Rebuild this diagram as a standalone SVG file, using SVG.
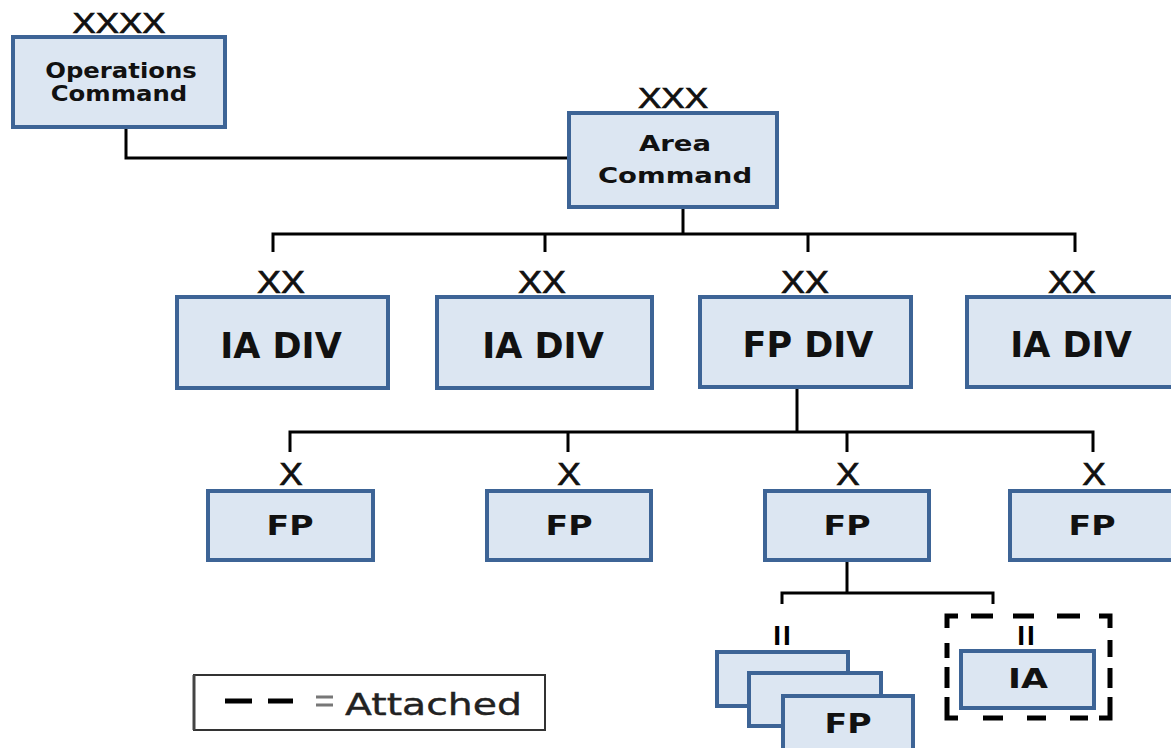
<svg xmlns="http://www.w3.org/2000/svg" width="1171" height="748" viewBox="0 0 1171 748">
  <style>
    .box { fill: #dce6f2; stroke: #3d6496; stroke-width: 4; }
    .wire { fill: none; stroke: #000; stroke-width: 3; }
    .dash { fill: none; stroke: #000; stroke-width: 5; }
    .echelon { font-family: "Liberation Sans", Arial, sans-serif; fill: #111; stroke: #111; stroke-width: 0.7; text-anchor: middle; }
    .bars { font-family: "Liberation Sans", Arial, sans-serif; font-weight: bold; font-size: 28px; letter-spacing: 2px; fill: #000; text-anchor: middle; }
    .lbl { font-family: "DejaVu Sans", "Liberation Sans", sans-serif; font-weight: bold; fill: #111; text-anchor: middle; }
  </style>
  <rect width="1171" height="748" fill="#fff"/>

  <!-- connectors -->
  <g id="connectors">
    <path class="wire" d="M126,128 V158 H569"/>
    <path class="wire" d="M683,208 V234"/>
    <path class="wire" d="M273,252 V234 H1075 V252"/>
    <path class="wire" d="M545,234 V252 M808,234 V252"/>
    <path class="wire" d="M797,389 V432"/>
    <path class="wire" d="M290,452 V432 H1093 V452"/>
    <path class="wire" d="M568,432 V452 M847,432 V452"/>
    <path class="wire" d="M847,561 V593"/>
    <path class="wire" d="M782,604 V593 H993 V604"/>
  </g>

  <g id="operations-command">
    <text class="echelon" font-size="29" transform="translate(119,33) scale(1.2,1)">XXXX</text>
    <rect class="box" x="13" y="37" width="212" height="90"/>
    <text class="lbl" font-size="21" transform="translate(121,78) scale(1.16,1)">Operations</text>
    <text class="lbl" font-size="21" transform="translate(119,101) scale(1.16,1)">Command</text>
  </g>

  <g id="area-command">
    <text class="echelon" font-size="30" transform="translate(673,108) scale(1.17,1)">XXX</text>
    <rect class="box" x="569" y="113" width="208" height="94"/>
    <text class="lbl" font-size="22" transform="translate(675,151) scale(1.25,1)">Area</text>
    <text class="lbl" font-size="22" transform="translate(675,183) scale(1.25,1)">Command</text>
  </g>

  <g id="ia-div-1">
    <text class="echelon" font-size="32" transform="translate(281,293) scale(1.12,1)">XX</text>
    <rect class="box" x="177" y="297" width="211" height="91"/>
    <text class="lbl" font-size="35" x="281" y="358">IA DIV</text>
  </g>
  <g id="ia-div-2">
    <text class="echelon" font-size="32" transform="translate(542,293) scale(1.12,1)">XX</text>
    <rect class="box" x="437" y="297" width="215" height="91"/>
    <text class="lbl" font-size="35" x="543" y="358">IA DIV</text>
  </g>
  <g id="fp-div">
    <text class="echelon" font-size="32" transform="translate(805,293) scale(1.12,1)">XX</text>
    <rect class="box" x="700" y="297" width="211" height="90"/>
    <text class="lbl" font-size="35" x="808" y="357">FP DIV</text>
  </g>
  <g id="ia-div-4">
    <text class="echelon" font-size="32" transform="translate(1072,293) scale(1.12,1)">XX</text>
    <rect class="box" x="967" y="297" width="210" height="90"/>
    <text class="lbl" font-size="35" x="1071" y="357">IA DIV</text>
  </g>

  <g id="fp-1">
    <text class="echelon" font-size="32" transform="translate(291,485) scale(1.1,1)">X</text>
    <rect class="box" x="208" y="491" width="165" height="69"/>
    <text class="lbl" font-size="27" transform="translate(290,535) scale(1.23,1)">FP</text>
  </g>
  <g id="fp-2">
    <text class="echelon" font-size="32" transform="translate(569,485) scale(1.1,1)">X</text>
    <rect class="box" x="487" y="491" width="164" height="69"/>
    <text class="lbl" font-size="27" transform="translate(569,535) scale(1.23,1)">FP</text>
  </g>
  <g id="fp-3">
    <text class="echelon" font-size="32" transform="translate(848,485) scale(1.1,1)">X</text>
    <rect class="box" x="765" y="491" width="164" height="69"/>
    <text class="lbl" font-size="27" transform="translate(847,535) scale(1.23,1)">FP</text>
  </g>
  <g id="fp-4">
    <text class="echelon" font-size="32" transform="translate(1094,485) scale(1.1,1)">X</text>
    <rect class="box" x="1010" y="491" width="166" height="69"/>
    <text class="lbl" font-size="27" transform="translate(1092,535) scale(1.23,1)">FP</text>
  </g>

  <!-- stacked battalions -->
  <g id="fp-battalions">
    <text class="bars" x="783" y="645">II</text>
    <rect class="box" x="717" y="652" width="131" height="54"/>
    <rect class="box" x="749" y="673" width="132" height="53"/>
    <rect class="box" x="783" y="696" width="130" height="60"/>
    <text class="lbl" font-size="27" transform="translate(848,733) scale(1.23,1)">FP</text>
  </g>

  <!-- attached battalion, dashed frame -->
  <g id="ia-attached">
    <path class="dash" d="M947,628 V616 H958 M1099,616 H1110 V628 M947,704 V718 H958 M1099,718 H1110 V704"/>
    <path class="dash" d="M971,616 H993 M1013,616 H1034 M1057,616 H1080"/>
    <path class="dash" d="M983,718 H1003 M1027,718 H1046 M1070,718 H1088"/>
    <path class="dash" d="M947,643 V658 M947,667 V688 M947,697 V704 M1110,640 V657 M1110,668 V688 M1110,697 V704"/>
    <text class="bars" x="1027" y="645">II</text>
    <rect class="box" x="961" y="651" width="133" height="57"/>
    <text class="lbl" font-size="27" transform="translate(1028,688) scale(1.29,1)">IA</text>
  </g>

  <g id="legend">
    <rect x="194" y="675" width="351" height="55" fill="#fff" stroke="#333" stroke-width="2"/>
    <path d="M194,675 V730" stroke="#444" stroke-width="3"/>
    <path d="M225,701 H252 M268,701 H293" stroke="#000" stroke-width="5"/>
    <path d="M316,697 H333 M316,705 H333" stroke="#777" stroke-width="3"/>
    <text font-family="DejaVu Sans, sans-serif" font-size="31" fill="#222" stroke="#222" stroke-width="0.4" transform="translate(345,715) scale(1.27,1)">Attached</text>
  </g>
</svg>
